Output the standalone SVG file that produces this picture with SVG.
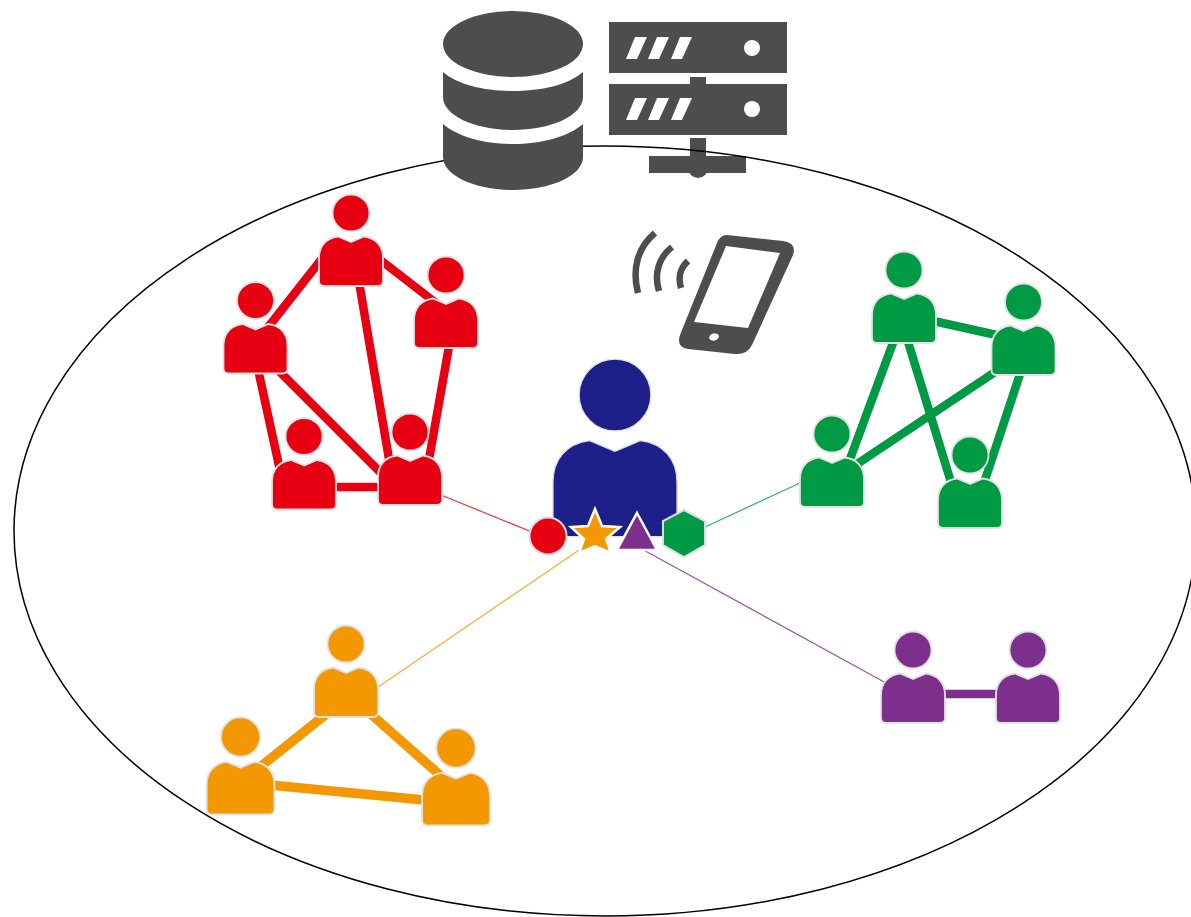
<svg xmlns="http://www.w3.org/2000/svg" width="1191" height="917" viewBox="0 0 1191 917">
<style>
.p{stroke:#e2e2e2;stroke-width:1.800}
.r{fill:#e60012}.g{fill:#009944}.o{fill:#f39800}.v{fill:#7d2f8c}.n{fill:#1d2088}
.k{fill:#4d4d4d}.w{fill:#fff}
.thick{stroke-width:8.500;fill:none}
.thin{stroke-width:1.200;fill:none;opacity:.8}
.sr{stroke:#e60012}.sg{stroke:#009944}.so{stroke:#f39800}.sv{stroke:#7d2f8c}
</style>
<defs>
<g id="person">
<circle cx="0" cy="0" r="18.500"/>
<path d="M0,29 L-13,23.500 C-25,25 -32,33 -32,45 L-32,68 Q-32,73 -27,73 L27,73 Q32,73 32,68 L32,45 C32,33 25,25 13,23.500 Z"/>
</g>
</defs>
<g id="server">
<rect class="k" x="609" y="22" width="178" height="51"/>
<rect class="k" x="609" y="84" width="178" height="51"/>
<rect class="k" x="690" y="77" width="16" height="8"/>
<rect class="k" x="690" y="138" width="16" height="20"/>
<rect class="k" x="649" y="156" width="97" height="17"/>
<circle class="k" cx="698" cy="168" r="10"/>
<path class="w" d="M635,37h12l-10,22h-11zM657,37h12l-10,22h-11zM680,37h12l-10,22h-11zM635,98h12l-10,22h-11zM657,98h12l-10,22h-11zM680,98h12l-10,22h-11z"/>
<circle class="w" cx="752" cy="48" r="8"/>
<circle class="w" cx="752" cy="109" r="8"/>
</g>
<ellipse id="boundary" cx="605" cy="531" rx="591" ry="385" fill="none" stroke="#000" stroke-width="1.500"/>
<g id="connectors">
<path class="thick sr" d="M335,242 L258,340M370,252 L445,310M357,270 L390,465M451,335 L428,465M256,360 L281,475M270,362 L390,482M330,487 L385,487"/>
<path class="thick sg" d="M920,318 L1010,338M897,332 L843,478M905,332 L954,492M1010,362 L845,472M1024,362 L981,492"/>
<path class="thick so" style="stroke-width:9.500" d="M335,707 L250,775M365,709 L450,784M260,784 L435,801"/>
<path class="thick sv" d="M935,694 L1005,694"/>
<path class="thin sr" d="M441,495 L532,532"/>
<path class="thin sg" d="M705,527 L802,482"/>
<path class="thin so" d="M378,687 L582,548"/>
<path class="thin sv" d="M640,548 L886,683"/>
</g>
<g id="database" class="k">
<ellipse cx="513" cy="44" rx="70" ry="33"/>
<path d="M443,72 C458,85 485,91 513,91 C541,91 568,85 583,72 L583,97 C583,116 550,130 513,130 C476,130 443,116 443,97 Z"/>
<path d="M443,124 C458,137 485,144 513,144 C541,144 568,137 583,124 L583,157 C583,176 550,190 513,190 C476,190 443,176 443,157 Z"/>
</g>
<g id="phone">
<path class="k" d="M727,235 L783,241 Q797,243 793,255 L752,345 Q747,355 735,354 L688,349 Q676,347 680,335 L717,243 Q720,235 727,235 Z"/>
<path class="w" d="M726,246 L780,253 L748,328 L694,322 Z"/>
<ellipse class="w" cx="714" cy="337" rx="5" ry="3.500" transform="rotate(-15 714 337)"/>
<path fill="none" stroke="#4d4d4d" stroke-width="6.500" d="M655,233 C637,248 632,270 638,293M672,247 C658,258 654,275 659,291M688,261 C680,268 678,278 681,288"/>
</g>
<g id="red-1" class="r"><use class="p" href="#person" transform="translate(351,213)"/></g>
<g id="red-2" class="r"><use class="p" href="#person" transform="translate(446,275)"/></g>
<g id="red-3" class="r"><use class="p" href="#person" transform="translate(255.500,300.500)"/></g>
<g id="red-4" class="r"><use class="p" href="#person" transform="translate(304,436.500)"/></g>
<g id="red-5" class="r"><use class="p" href="#person" transform="translate(410,432)"/></g>
<g id="green-1" class="g"><use class="p" href="#person" transform="translate(904,270)"/></g>
<g id="green-2" class="g"><use class="p" href="#person" transform="translate(1023.500,302)"/></g>
<g id="green-3" class="g"><use class="p" href="#person" transform="translate(832,434)"/></g>
<g id="green-4" class="g"><use class="p" href="#person" transform="translate(970,455)"/></g>
<g id="orange-1" class="o"><use class="p" href="#person" transform="translate(346,644)"/></g>
<g id="orange-2" class="o"><use class="p" href="#person" transform="translate(240.500,737) scale(1.06)"/></g>
<g id="orange-3" class="o"><use class="p" href="#person" transform="translate(456,748) scale(1.06)"/></g>
<g id="purple-1" class="v"><use class="p" href="#person" transform="translate(913,650)"/></g>
<g id="purple-2" class="v"><use class="p" href="#person" transform="translate(1028,650)"/></g>
<g id="center" class="n"><use class="p" href="#person" style="stroke-width:.7" transform="translate(615,395) scale(1.94)"/></g>
<g id="badges" stroke="#fff" stroke-width="2">
<circle class="r" cx="548" cy="536" r="18.500" style="stroke:#ddd"/>
<polygon class="o" points="595,509 602,526 620,527 606,539 611,553 595,546 579,553 584,539 571,527 588,526" stroke-width="2.500"/>
<polygon class="v" points="637,513 657,550 617,550" stroke-width="2.500"/>
<polygon class="g" points="684,510 705,521 705,545 684,557 663,545 663,521" style="stroke:#ddd"/>
</g>
</svg>
